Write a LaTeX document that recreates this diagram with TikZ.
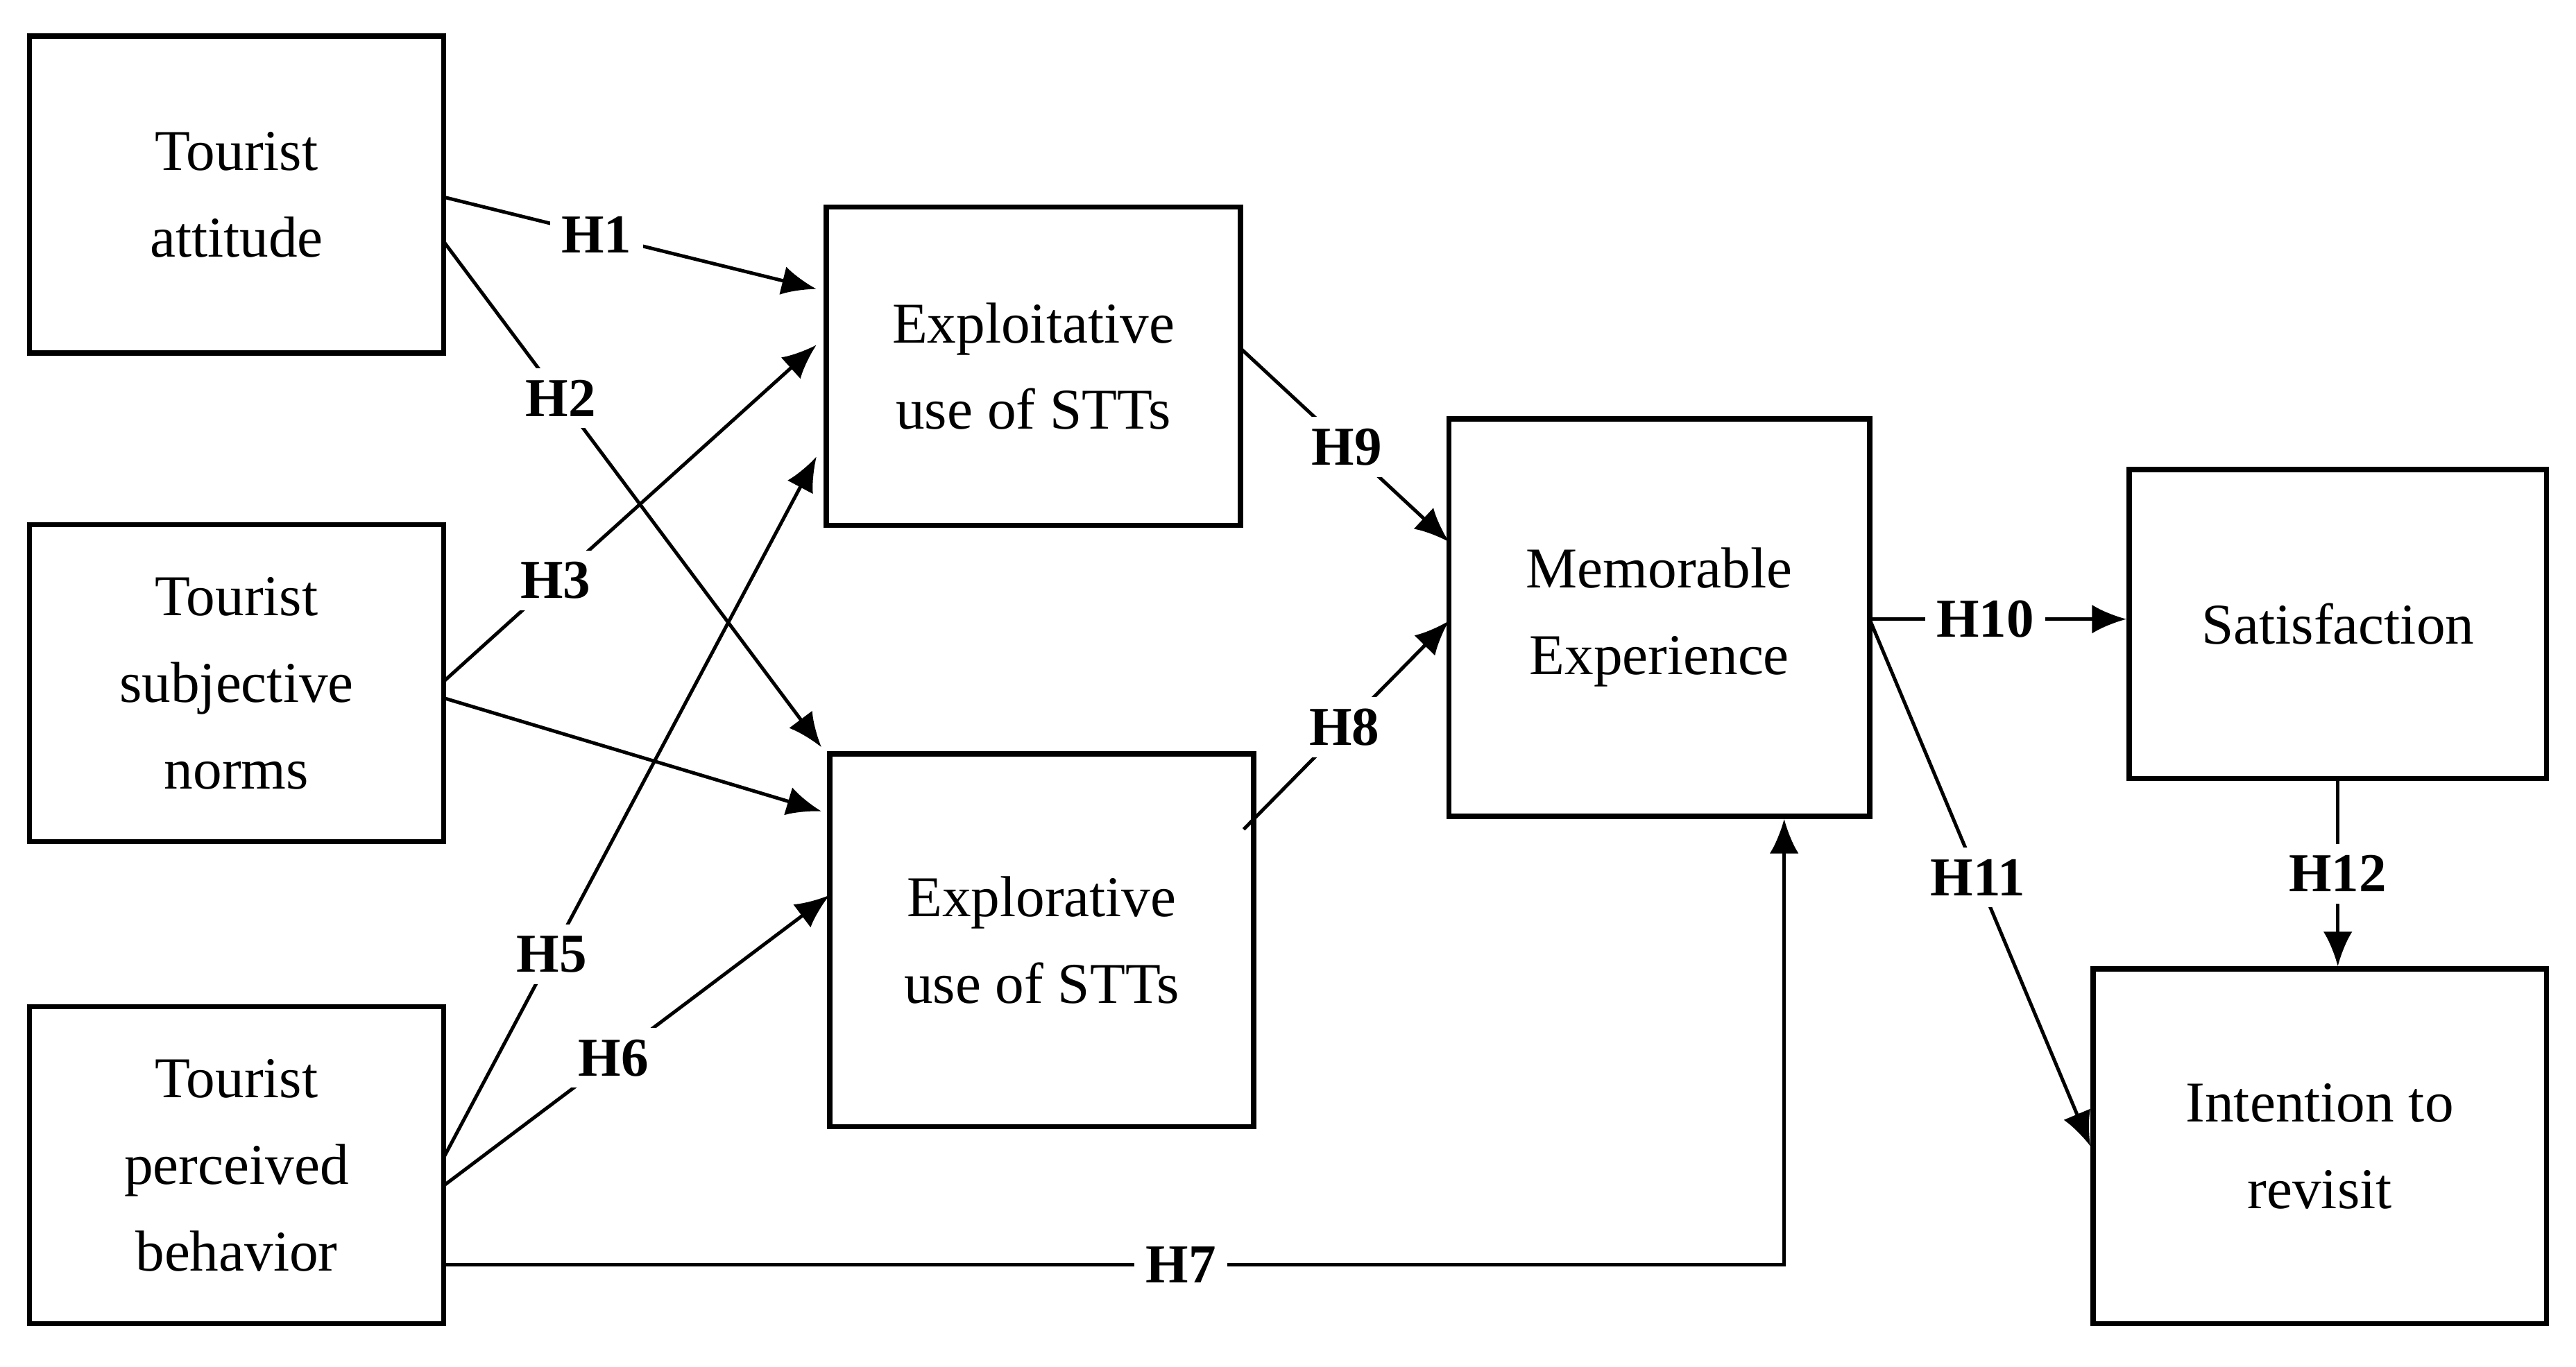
\documentclass[tikz,border=0pt]{standalone}
\usepackage{fontspec}
\setmainfont{Liberation Serif}
\usetikzlibrary{arrows.meta, positioning, calc}

\begin{document}
\begin{tikzpicture}[
    box/.style={draw, line width=0.9pt, minimum width=2.52cm, minimum height=1.93cm,
                align=center, font=\fontsize{10}{15}\selectfont},
    hyp/.style={fill=white, inner sep=2pt, font=\bfseries\fontsize{9.5}{11}\selectfont},
    link/.style={line width=0.6pt, -{Latex[length=6pt,width=5pt]}}
  ]
    \useasboundingbox (0,0) rectangle (15.68,8.32);

    % Constructs
    \node[box] (att) at (1.44,7.135) {Tourist\\attitude};
    \node[box] (norm) at (1.44,4.16) {Tourist\\subjective\\norms};
    \node[box] (perc) at (1.44,1.225) {Tourist\\perceived\\behavior};
    \node[box, minimum height=1.94cm] (exploit) at (6.29,6.09) {Exploitative\\use of STTs};
    \node[box, minimum width=2.58cm, minimum height=2.27cm] (explor) at (6.34,2.595) {Explorative\\use of STTs};
    \node[box, minimum width=2.56cm, minimum height=2.42cm] (mem) at (10.10,4.56) {Memorable\\Experience};
    \node[box, minimum width=2.54cm, minimum height=1.88cm] (sat) at (14.23,4.52) {Satisfaction};
    \node[box, minimum width=2.76cm, minimum height=2.16cm] (rev) at (14.12,1.34) {Intention to\\revisit};

    % Connector ends
    \coordinate (a1) at (2.70,7.12);
    \coordinate (a2) at (2.70,6.85);
    \coordinate (e1) at (4.97,6.56);
    \coordinate (e2) at (4.97,6.22);
    \coordinate (e3) at (4.97,5.54);
    \coordinate (n1) at (2.70,4.17);
    \coordinate (n2) at (2.70,4.07);
    \coordinate (p1) at (2.70,1.27);
    \coordinate (p2) at (2.70,1.10);
    \coordinate (p3) at (2.70,0.62);
    \coordinate (x1) at (5.00,3.77);
    \coordinate (x2) at (5.00,3.38);
    \coordinate (x3) at (5.05,2.87);
    \coordinate (xo) at (7.57,3.27);
    \coordinate (eo) at (7.55,6.20);
    \coordinate (m1) at (8.82,5.02);
    \coordinate (m2) at (8.82,4.54);
    \coordinate (mo) at (11.38,4.55);
    \coordinate (bend) at (10.86,0.62);

    % Hypotheses
    \draw[link] (a1) -- node[hyp, pos=0.41] {H1} (e1);
    \draw[link] (a2) -- node[hyp, pos=0.31] {H2} (x1);
    \draw[link] (n1) -- node[hyp, pos=0.30] {H3} (e2);
    \draw[link] (n2) -- (x2);
    \draw[link] (p1) -- node[hyp, pos=0.29] {H5} (e3);
    \draw[link] (p2) -- node[hyp, pos=0.44] {H6} (x3);
    \draw[link] (p3) -- node[hyp, pos=0.55] {H7} (bend) -- (mem.south -| bend);
    \draw[link] (xo) -- node[hyp, pos=0.49] {H8} (m2);
    \draw[link] (eo) -- node[hyp, pos=0.51] {H9} (m1);
    \draw[link] (mo) -- node[hyp, pos=0.45] {H10} (sat.west |- mo);
    \draw[link] (mo) -- node[hyp, pos=0.49] {H11} (rev.west);
    \draw[link] (sat.south) -- node[hyp, pos=0.5] {H12} (sat.south |- rev.north);
\end{tikzpicture}
\end{document}
